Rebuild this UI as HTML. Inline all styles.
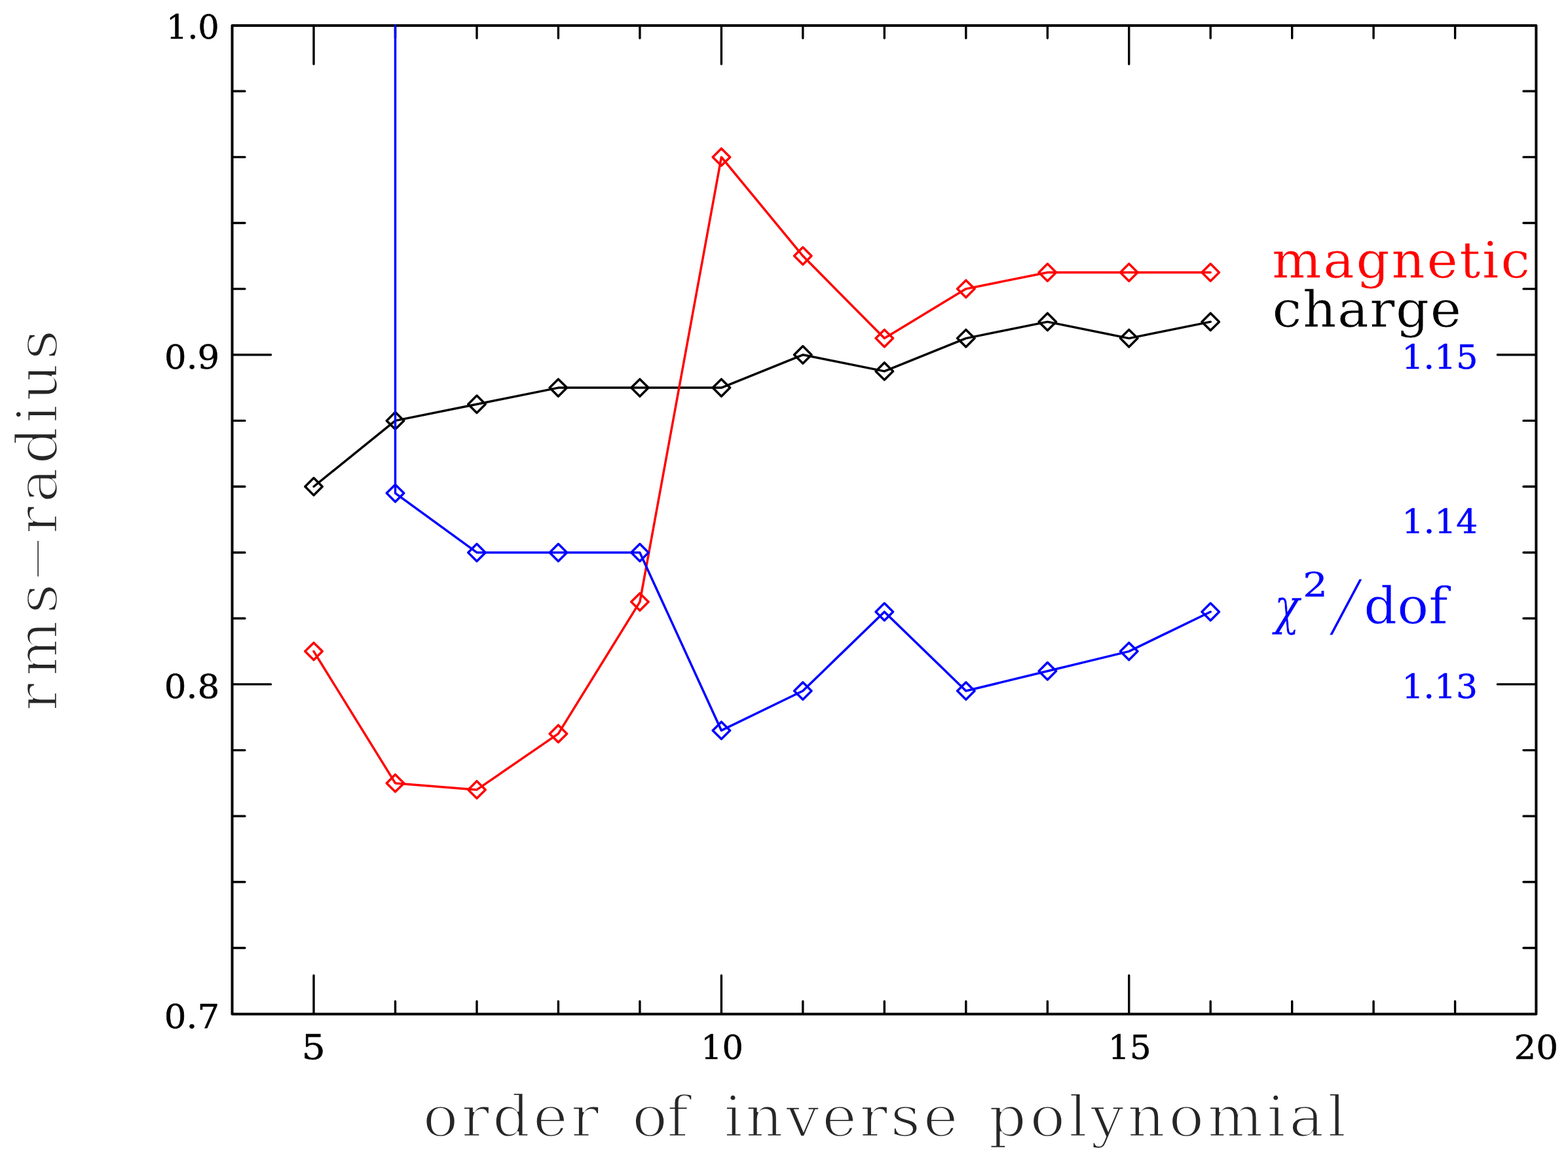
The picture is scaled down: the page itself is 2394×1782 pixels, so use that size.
<!DOCTYPE html>
<html lang="en">
<head>
<meta charset="utf-8">
<title>rms-radius versus order of inverse polynomial</title>
<style>
html,body{margin:0;padding:0;background:#fff;}
body{width:2394px;height:1782px;overflow:hidden;}
svg{display:block;font-family:"DejaVu Serif","Liberation Serif",serif;filter:blur(0.6px);}
.fr{stroke:#000;stroke-width:4;fill:none;stroke-linecap:round;stroke-linejoin:round;}
.tk{stroke:#000;stroke-width:3.4;fill:none;stroke-linecap:round;}
.ln{stroke-width:3.5;fill:none;stroke-linecap:round;stroke-linejoin:round;}
.ax{fill:#262626;stroke:#fff;stroke-width:2.7px;}
</style>
</head>
<body>
<svg width="2394" height="1782" viewBox="0 0 2394 1782">
<rect x="0" y="0" width="2394" height="1782" fill="#fff"/>
<text class="ax" font-size="86.50"><tspan x="645.50" y="1735.15" letter-spacing="4.33" textLength="273.50" lengthAdjust="spacingAndGlyphs">order</tspan> <tspan x="964.90" y="1735.15" letter-spacing="-0.96" textLength="85.46" lengthAdjust="spacingAndGlyphs">of</tspan> <tspan x="1105.15" y="1735.15" letter-spacing="3.93" textLength="361.77" lengthAdjust="spacingAndGlyphs">inverse</tspan> <tspan x="1509.50" y="1735.15" letter-spacing="4.91" textLength="551.04" lengthAdjust="spacingAndGlyphs">polynomial</tspan></text>
<text class="ax" font-size="86.50" transform="translate(85.30 1081.30) rotate(-90)"><tspan x="-4.75" y="1.35" letter-spacing="9.86" textLength="205.24" lengthAdjust="spacingAndGlyphs">rms</tspan><tspan x="180.40" y="-4.05" textLength="95.47" lengthAdjust="spacingAndGlyphs" stroke-width="5.0">-</tspan><tspan x="265.55" y="1.35" letter-spacing="4.86" textLength="317.41" lengthAdjust="spacingAndGlyphs">radius</tspan></text>
<rect class="fr" x="354.5" y="38.9" width="1990.9" height="1509.5"/>
<path class="tk" d="M479.0 1548.4v-59.0M479.0 38.9v59.0M603.5 1548.4v-19.4M603.5 38.9v19.4M728.0 1548.4v-19.4M728.0 38.9v19.4M852.4 1548.4v-19.4M852.4 38.9v19.4M976.9 1548.4v-19.4M976.9 38.9v19.4M1101.4 1548.4v-59.0M1101.4 38.9v59.0M1225.8 1548.4v-19.4M1225.8 38.9v19.4M1350.3 1548.4v-19.4M1350.3 38.9v19.4M1474.8 1548.4v-19.4M1474.8 38.9v19.4M1599.3 1548.4v-19.4M1599.3 38.9v19.4M1723.7 1548.4v-59.0M1723.7 38.9v59.0M1848.2 1548.4v-19.4M1848.2 38.9v19.4M1972.7 1548.4v-19.4M1972.7 38.9v19.4M2097.1 1548.4v-19.4M2097.1 38.9v19.4M2221.6 1548.4v-19.4M2221.6 38.9v19.4M354.5 1447.5h19.4M2345.4 1447.5h-19.4M354.5 1346.8h19.4M2345.4 1346.8h-19.4M354.5 1246.2h19.4M2345.4 1246.2h-19.4M354.5 1145.6h19.4M2345.4 1145.6h-19.4M354.5 1044.9h59.0M2345.4 1044.9h-59.0M354.5 944.3h19.4M2345.4 944.3h-19.4M354.5 843.7h19.4M2345.4 843.7h-19.4M354.5 743.0h19.4M2345.4 743.0h-19.4M354.5 642.4h19.4M2345.4 642.4h-19.4M354.5 541.8h59.0M2345.4 541.8h-59.0M354.5 441.1h19.4M2345.4 441.1h-19.4M354.5 340.5h19.4M2345.4 340.5h-19.4M354.5 239.9h19.4M2345.4 239.9h-19.4M354.5 139.2h19.4M2345.4 139.2h-19.4"/>
<g class="ln" stroke="#000">
<polyline points="479.0 743.0 603.5 642.4 728.0 617.2 852.4 592.1 976.9 592.1 1101.4 592.1 1225.8 541.8 1350.3 566.9 1474.8 516.6 1599.3 491.4 1723.7 516.6 1848.2 491.4"/>
<path d="M465.8 743.0l13.2 -13.2l13.2 13.2l-13.2 13.2zM590.3 642.4l13.2 -13.2l13.2 13.2l-13.2 13.2zM714.8 617.2l13.2 -13.2l13.2 13.2l-13.2 13.2zM839.2 592.1l13.2 -13.2l13.2 13.2l-13.2 13.2zM963.7 592.1l13.2 -13.2l13.2 13.2l-13.2 13.2zM1088.2 592.1l13.2 -13.2l13.2 13.2l-13.2 13.2zM1212.6 541.8l13.2 -13.2l13.2 13.2l-13.2 13.2zM1337.1 566.9l13.2 -13.2l13.2 13.2l-13.2 13.2zM1461.6 516.6l13.2 -13.2l13.2 13.2l-13.2 13.2zM1586.1 491.4l13.2 -13.2l13.2 13.2l-13.2 13.2zM1710.5 516.6l13.2 -13.2l13.2 13.2l-13.2 13.2zM1835.0 491.4l13.2 -13.2l13.2 13.2l-13.2 13.2z"/>
</g>
<g class="ln" stroke="#f00">
<polyline points="479.0 994.6 603.5 1195.9 728.0 1205.9 852.4 1120.4 976.9 919.1 1101.4 239.9 1225.8 390.8 1350.3 516.6 1474.8 441.1 1599.3 416.0 1723.7 416.0 1848.2 416.0"/>
<path d="M465.8 994.6l13.2 -13.2l13.2 13.2l-13.2 13.2zM590.3 1195.9l13.2 -13.2l13.2 13.2l-13.2 13.2zM714.8 1205.9l13.2 -13.2l13.2 13.2l-13.2 13.2zM839.2 1120.4l13.2 -13.2l13.2 13.2l-13.2 13.2zM963.7 919.1l13.2 -13.2l13.2 13.2l-13.2 13.2zM1088.2 239.9l13.2 -13.2l13.2 13.2l-13.2 13.2zM1212.6 390.8l13.2 -13.2l13.2 13.2l-13.2 13.2zM1337.1 516.6l13.2 -13.2l13.2 13.2l-13.2 13.2zM1461.6 441.1l13.2 -13.2l13.2 13.2l-13.2 13.2zM1586.1 416.0l13.2 -13.2l13.2 13.2l-13.2 13.2zM1710.5 416.0l13.2 -13.2l13.2 13.2l-13.2 13.2zM1835.0 416.0l13.2 -13.2l13.2 13.2l-13.2 13.2z"/>
</g>
<g class="ln" stroke="#00f">
<polyline points="603.5 38.9 603.5 753.1 728.0 843.7 852.4 843.7 976.9 843.7 1101.4 1115.4 1225.8 1055.0 1350.3 934.2 1474.8 1055.0 1599.3 1024.8 1723.7 994.6 1848.2 934.2"/>
<path d="M590.3 753.1l13.2 -13.2l13.2 13.2l-13.2 13.2zM714.8 843.7l13.2 -13.2l13.2 13.2l-13.2 13.2zM839.2 843.7l13.2 -13.2l13.2 13.2l-13.2 13.2zM963.7 843.7l13.2 -13.2l13.2 13.2l-13.2 13.2zM1088.2 1115.4l13.2 -13.2l13.2 13.2l-13.2 13.2zM1212.6 1055.0l13.2 -13.2l13.2 13.2l-13.2 13.2zM1337.1 934.2l13.2 -13.2l13.2 13.2l-13.2 13.2zM1461.6 1055.0l13.2 -13.2l13.2 13.2l-13.2 13.2zM1586.1 1024.8l13.2 -13.2l13.2 13.2l-13.2 13.2zM1710.5 994.6l13.2 -13.2l13.2 13.2l-13.2 13.2zM1835.0 934.2l13.2 -13.2l13.2 13.2l-13.2 13.2z"/>
</g>
<text x="253.70" y="59.38" font-size="51.12" fill="#000" stroke="#000" stroke-width="0.50" stroke-linejoin="round" textLength="81.11" lengthAdjust="spacingAndGlyphs">1.0</text>
<text x="251.05" y="562.92" font-size="51.12" fill="#000" stroke="#000" stroke-width="0.50" stroke-linejoin="round" textLength="84.00" lengthAdjust="spacingAndGlyphs">0.9</text>
<text x="250.85" y="1066.28" font-size="51.12" fill="#000" stroke="#000" stroke-width="0.50" stroke-linejoin="round" textLength="84.39" lengthAdjust="spacingAndGlyphs">0.8</text>
<text x="250.85" y="1569.78" font-size="51.12" fill="#000" stroke="#000" stroke-width="0.50" stroke-linejoin="round" textLength="84.30" lengthAdjust="spacingAndGlyphs">0.7</text>
<text x="460.60" y="1617.25" font-size="52.00" fill="#000" stroke="#000" stroke-width="0.50" stroke-linejoin="round" textLength="36.34" lengthAdjust="spacingAndGlyphs">5</text>
<text x="1070.00" y="1617.12" font-size="51.12" fill="#000" stroke="#000" stroke-width="0.50" stroke-linejoin="round" textLength="64.88" lengthAdjust="spacingAndGlyphs">10</text>
<text x="1691.80" y="1617.12" font-size="51.12" fill="#000" stroke="#000" stroke-width="0.50" stroke-linejoin="round" textLength="65.92" lengthAdjust="spacingAndGlyphs">15</text>
<text x="2311.45" y="1617.12" font-size="51.12" fill="#000" stroke="#000" stroke-width="0.50" stroke-linejoin="round" textLength="67.68" lengthAdjust="spacingAndGlyphs">20</text>
<text x="2140.20" y="562.92" font-size="51.12" fill="#00f" stroke="#00f" stroke-width="0.50" stroke-linejoin="round" textLength="116.33" lengthAdjust="spacingAndGlyphs">1.15</text>
<text x="2140.60" y="814.38" font-size="51.12" fill="#00f" stroke="#00f" stroke-width="0.50" stroke-linejoin="round" textLength="115.77" lengthAdjust="spacingAndGlyphs">1.14</text>
<text x="2140.60" y="1066.28" font-size="51.12" fill="#00f" stroke="#00f" stroke-width="0.50" stroke-linejoin="round" textLength="115.45" lengthAdjust="spacingAndGlyphs">1.13</text>
<text x="1941.90" y="423.80" font-size="76.80" fill="#f00" stroke="#fff" stroke-width="0.70" letter-spacing="2.54" textLength="396.71" lengthAdjust="spacingAndGlyphs">magnetic</text>
<text x="1942.55" y="499.20" font-size="76.80" fill="#000" stroke="#fff" stroke-width="0.70" letter-spacing="1.54" textLength="289.97" lengthAdjust="spacingAndGlyphs">charge</text>
<text fill="#00f"><tspan x="1945.55" y="952.80" textLength="38.73" lengthAdjust="spacingAndGlyphs" font-size="76.21" font-style="italic" stroke="#fff" stroke-width="0.60">χ</tspan><tspan x="1988.95" y="910.95" textLength="38.07" lengthAdjust="spacingAndGlyphs" font-size="51.70" stroke="#00f" stroke-width="0.20" stroke-linejoin="round">2</tspan><tspan x="2023.70" y="960.80" textLength="62.14" lengthAdjust="spacingAndGlyphs" font-size="106.81" font-weight="200" font-family="&quot;DejaVu Sans&quot;,&quot;Liberation Sans&quot;,sans-serif" stroke="#fff" stroke-width="3.00">/</tspan><tspan x="2082.35" y="951.80" letter-spacing="0.12" textLength="128.47" lengthAdjust="spacingAndGlyphs" font-size="76.40" stroke="#fff" stroke-width="0.70">dof</tspan></text>
</svg>
</body>
</html>
